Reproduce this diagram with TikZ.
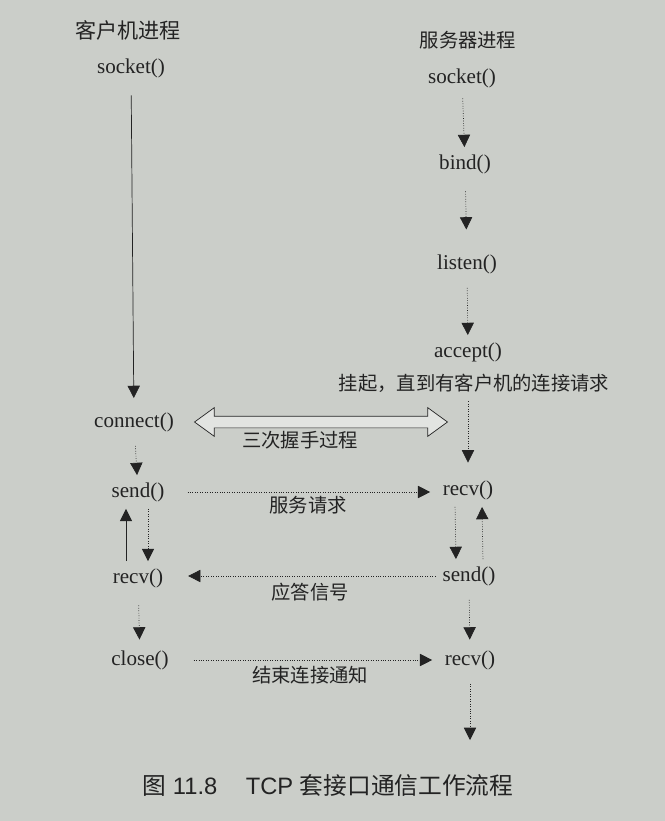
\documentclass[tikz,border=0pt]{standalone}
\usepackage{fontspec}
\setmainfont{Liberation Serif}
\setsansfont{Liberation Sans}
\newfontfamily\cjk{Noto Sans CJK SC}
\usetikzlibrary{positioning, calc, arrows.meta, shapes.arrows}
\definecolor{paper}{RGB}{203,206,201}
\definecolor{ink}{RGB}{35,35,35}

\begin{document}
\begin{tikzpicture}[x=0.02cm, y=-0.02cm, >={Triangle[length=7pt,width=7pt]},
    call/.style={font=\fontsize{12}{14}\selectfont, text=ink, inner sep=2pt},
    note/.style={font=\cjk\fontsize{11}{13}\selectfont, text=ink, inner sep=1pt},
    flow/.style={->, densely dotted, ink, thin, shorten >=2pt, shorten <=4pt},
    msg/.style={->, densely dotted, ink, thin}]
    % Paper
    \fill[paper] (0,0) rectangle (665,821);
    \useasboundingbox (0,0) rectangle (665,821);

    % Headings
    \node[note, font=\cjk\fontsize{12}{14}\selectfont] (chead) at (128,30) {客户机进程};
    \node[note] (shead) at (468,40) {服务器进程};

    % Client calls
    \node[call] (csock)  at (131,68)  {socket()};
    \node[call] (cconn)  at (134,422) {connect()};
    \node[call] (csend)  at (138,492) {send()};
    \node[call] (crecv)  at (138,578) {recv()};
    \node[call] (cclose) at (140,660) {close()};

    % Server calls
    \node[call] (ssock)  at (462,78)  {socket()};
    \node[call] (sbind)  at (465,164) {bind()};
    \node[call] (slist)  at (467,264) {listen()};
    \node[call] (sacc)   at (468,352) {accept()};
    \node[note] (wait)   at (474,383) {挂起，直到有客户机的连接请求};
    \node[call] (srecv)  at (468,490) {recv()};
    \node[call] (ssend)  at (469,576) {send()};
    \node[call] (srecvb) at (470,660) {recv()};
    \coordinate (sdone) at (470,740);

    % Client flow
    \draw[->, ink, thin, shorten >=6pt, shorten <=8pt] (csock) -- (cconn);
    \draw[flow, shorten <=6pt] (cconn) -- (csend);
    \draw[->, ink, thin, shorten <=2pt, shorten >=2pt] ([xshift=-0.24cm]crecv.north) -- ([xshift=-0.24cm]csend.south);
    \draw[flow, shorten <=2pt] ([xshift=0.2cm]csend.south) -- ([xshift=0.2cm]crecv.north);
    \draw[flow, shorten <=8pt, shorten >=4pt] (crecv) -- (cclose);

    % Server flow
    \draw[flow] (ssock) -- (sbind);
    \draw[flow, shorten <=8pt, shorten >=12pt] (sbind) -- (slist);
    \draw[flow, shorten <=6pt] (slist) -- (sacc);
    \draw[flow, shorten <=4pt, shorten >=8pt] (wait.south -| srecv) -- (srecv);
    \draw[flow, shorten <=2pt] ([xshift=-0.26cm]srecv.south) -- ([xshift=-0.26cm]ssend.north);
    \draw[->, densely dotted, ink, thin, shorten <=2pt, shorten >=2pt] ([xshift=0.28cm]ssend.north) -- ([xshift=0.28cm]srecv.south);
    \draw[flow, shorten <=6pt, shorten >=4pt] (ssend) -- (srecvb);
    \draw[flow, shorten <=6pt, shorten >=0pt] (srecvb) -- (sdone);

    % Handshake
    \node[double arrow, draw=ink, fill=paper!55!white, thin, inner xsep=0pt, inner ysep=0.11cm,
          minimum height=5.06cm, minimum width=0.56cm,
          double arrow head extend=0.17cm, double arrow tip angle=72] (shake) at (321,422) {};
    \node[note] (shakelbl) at (300,440) {三次握手过程};

    % Messages
    \draw[msg, shorten <=11pt, shorten >=5pt] (csend.east) -- (csend.east -| srecv.west);
    \node[note] (reqlbl) at (308,505) {服务请求};
    \draw[msg, shorten <=2pt, shorten >=12pt] (ssend.west) -- (ssend.west -| crecv.east);
    \node[note] (replbl) at (310,592) {应答信号};
    \draw[msg, shorten <=12pt, shorten >=5pt] (cclose.east) -- (cclose.east -| srecvb.west);
    \node[note] (endlbl) at (310,675) {结束连接通知};

    % Caption
    \node[text=ink, font=\sffamily\fontsize{13.5}{16}\selectfont] (caption) at (328,786)
        {{\cjk 图} 11.8\hspace{1.2em}TCP {\cjk 套接口通信工作流程}};
\end{tikzpicture}
\end{document}
